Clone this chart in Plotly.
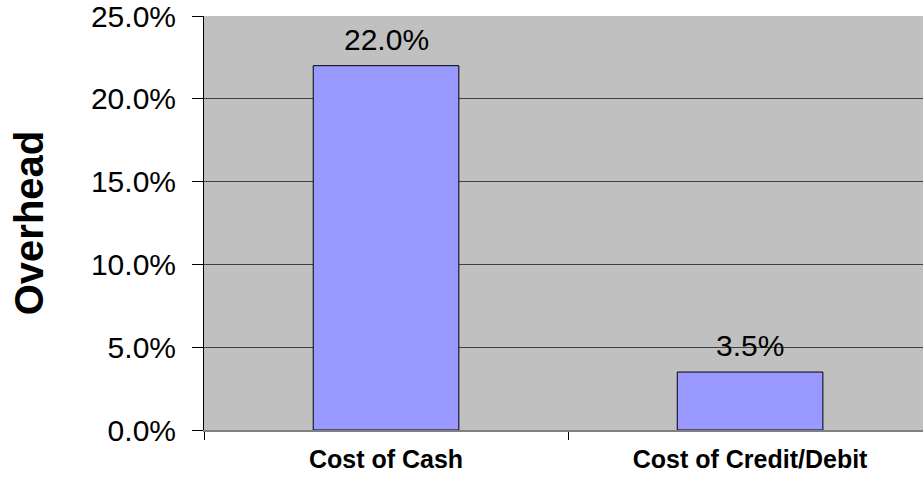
import plotly.graph_objects as go

categories = ["Cost of Cash", "Cost of Credit/Debit"]
overhead = [0.22, 0.035]
y_ticks = [0.0, 0.05, 0.10, 0.15, 0.20, 0.25]

FONT = "Liberation Sans, Arial, sans-serif"

fig = go.Figure(
    go.Bar(
        x=categories,
        y=overhead,
        width=0.4,
        marker=dict(color="#9999FF", line=dict(color="#000000", width=1)),
        cliponaxis=False,
    )
)

for cat, val in zip(categories, overhead):
    fig.add_annotation(
        x=cat, y=val, text=f"{val:.1%}", showarrow=False,
        yanchor="bottom", yshift=8,
        font=dict(family=FONT, size=30, color="#000000"),
    )

fig.update_layout(
    width=923,
    height=478,
    margin=dict(l=204, r=0, t=16, b=48),
    paper_bgcolor="#FFFFFF",
    plot_bgcolor="#C0C0C0",
    showlegend=False,
    font=dict(family=FONT, color="#000000"),
)

fig.update_xaxes(
    range=[-0.5, 1.475],
    tickson="boundaries",
    ticks="outside",
    ticklen=8,
    tickcolor="#000000",
    tickwidth=1,
    showline=True,
    linecolor="#808080",
    linewidth=2,
    showgrid=False,
    ticklabelstandoff=6,
    tickfont=dict(family=FONT, size=25, color="#000000", weight="bold"),
)

fig.update_yaxes(
    range=[0, 0.25],
    tickvals=y_ticks,
    tickformat=".1%",
    ticks="outside",
    ticklen=11,
    tickcolor="#000000",
    showline=True,
    linecolor="#000000",
    linewidth=1,
    showgrid=True,
    gridcolor="#404040",
    gridwidth=1,
    zeroline=False,
    ticklabelstandoff=10,
    ticklabeloverflow="allow",
    tickfont=dict(family=FONT, size=30, color="#000000"),
    title=dict(text="Overhead", font=dict(family=FONT, size=40, color="#000000", weight="bold"), standoff=34),
)

fig.write_html(
    "out.html",
    config={"displayModeBar": False},
    post_script="document.body.style.margin='0';document.body.style.overflow='hidden';",
)
